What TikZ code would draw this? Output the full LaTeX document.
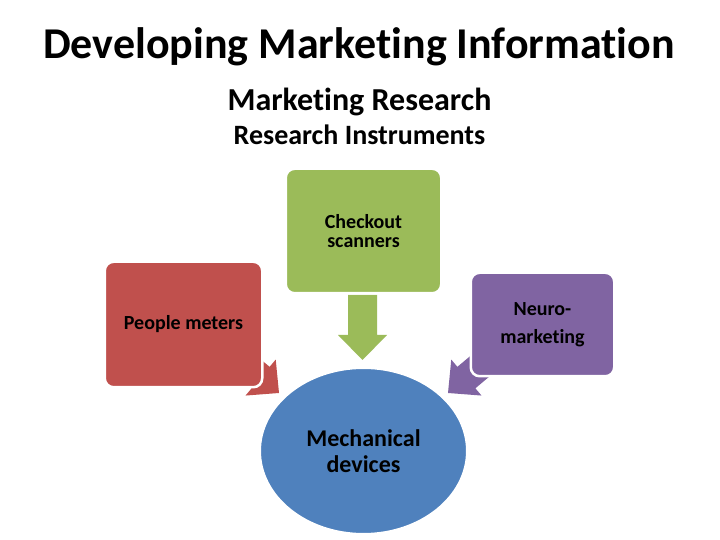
\documentclass[tikz,border=0pt]{standalone}
\usepackage{fontspec}
\setmainfont{Carlito}[Ligatures={NoCommon,NoContextual}]
\usetikzlibrary{shapes.geometric}
\definecolor{cgreen}{HTML}{9BBB59}
\definecolor{cred}{HTML}{C0504D}
\definecolor{cpurple}{HTML}{8064A2}
\definecolor{cblue}{HTML}{4F81BD}
\begin{document}
\begin{tikzpicture}[x=1pt,y=1pt,
  boxnode/.style={rectangle, draw=white, line width=2.5pt, rounded corners=9pt,
    inner sep=0pt, align=center, text=black},
  heading/.style={anchor=base, text=black, inner sep=0pt}]
\useasboundingbox[fill=white] (0,0) rectangle (720,540);

% headings
\node[heading, font=\fontsize{44}{50}\selectfont\bfseries] (title) at (359,481) {Developing Marketing Information};
\node[heading, font=\fontsize{32}{36}\selectfont\bfseries] (sub1) at (359.5,429) {Marketing Research};
\node[heading, font=\fontsize{28}{32}\selectfont\bfseries] (sub2) at (359.5,395) {Research Instruments};

% arrow tips (connector ends)
\coordinate (tipR) at (279,147);
\coordinate (tipP) at (448,147);
\coordinate (tipG) at (362.5,180);

% block arrows (drawn first, shafts hidden behind the boxes)
\fill[cred, shift={(tipR)}, rotate=-40]
  (0,0) -- (-24,23.5) -- (-24,14) -- (-54,14) -- (-54,-14) -- (-24,-14) -- (-24,-23.5) -- cycle;
\fill[cpurple, shift={(tipP)}, rotate=220]
  (0,0) -- (-24,23.5) -- (-24,14) -- (-54,14) -- (-54,-14) -- (-24,-14) -- (-24,-23.5) -- cycle;
\fill[cgreen, shift={(tipG)}, rotate=-90]
  (0,0) -- (-25,24.5) -- (-25,14.5) -- (-65,14.5) -- (-65,-14.5) -- (-25,-14.5) -- (-25,-24.5) -- cycle;

% boxes
\node[boxnode, fill=cgreen, minimum width=155.5pt, minimum height=124.5pt,
      font=\fontsize{20}{19.5}\selectfont\bfseries] (checkout) at (363.5,309) {Checkout\\scanners};
\node[boxnode, fill=cred, minimum width=157.5pt, minimum height=125.5pt,
      font=\fontsize{20}{19.5}\selectfont\bfseries] (people) at (183.5,215.5) {People meters};
\node[boxnode, fill=cpurple, minimum width=143.5pt, minimum height=103.5pt,
      font=\fontsize{20}{28}\selectfont\bfseries] (neuro) at (542.5,215.5) {Neuro-\\marketing};
\node[ellipse, draw=white, line width=2.5pt, fill=cblue, inner sep=0pt,
      minimum width=207.5pt, minimum height=166.5pt, align=center, text=black,
      font=\fontsize{24}{25.5}\selectfont\bfseries] (mech) at (363.5,89) {Mechanical\\devices};
\end{tikzpicture}
\end{document}
